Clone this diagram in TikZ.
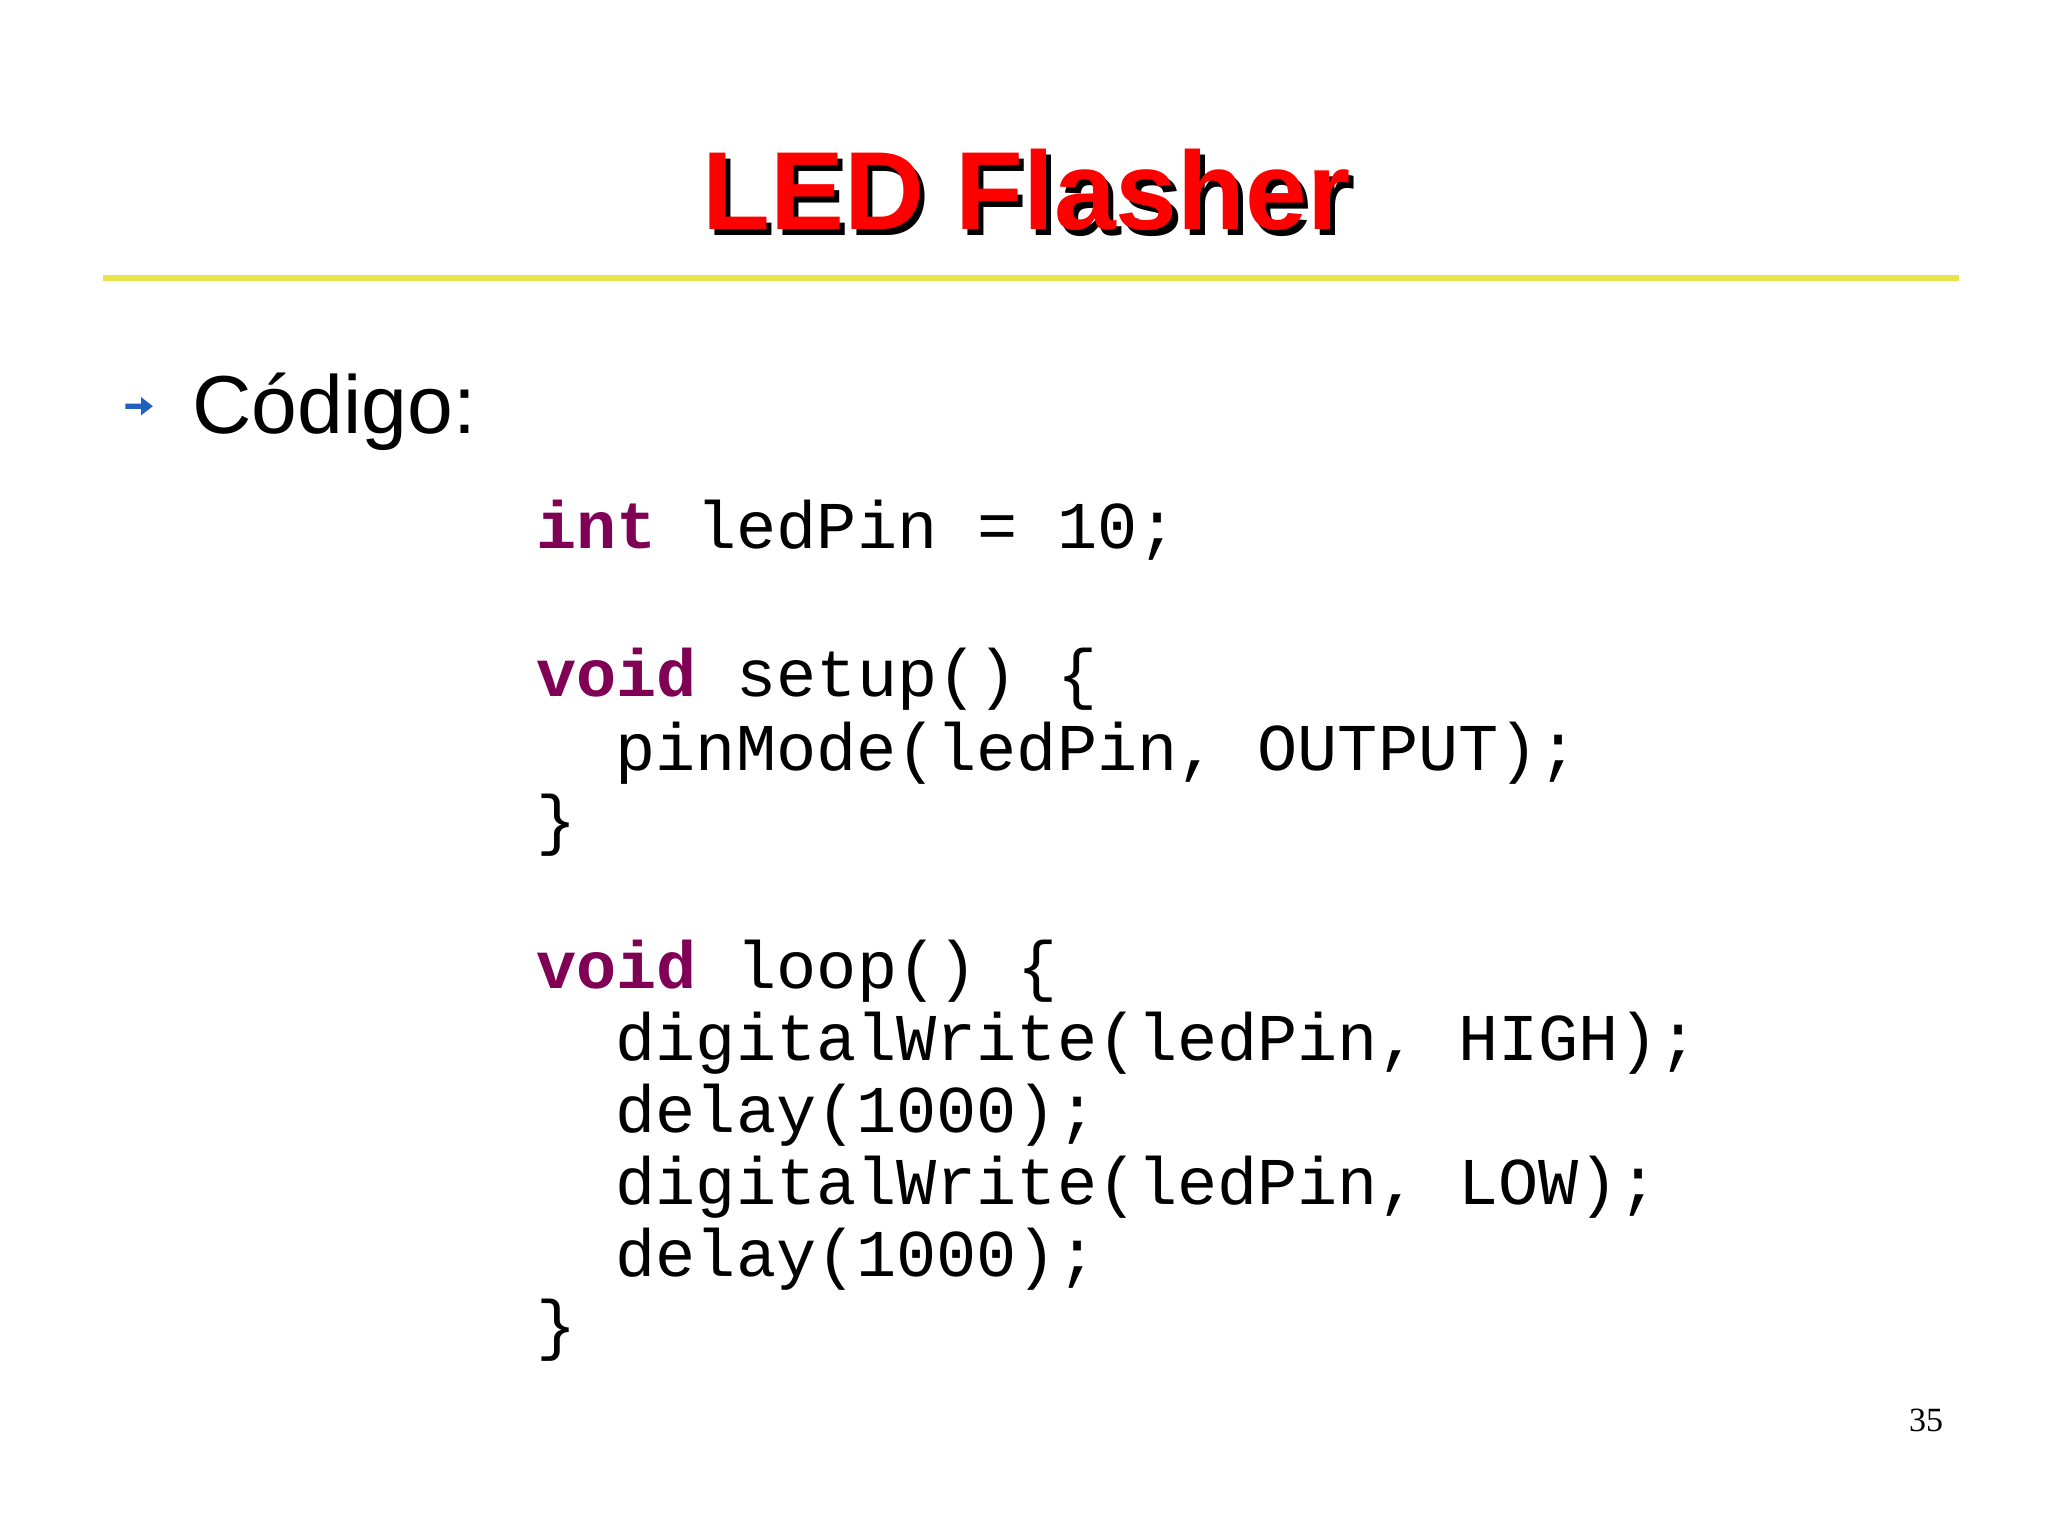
\documentclass[tikz,border=0pt]{standalone}
\usepackage{fontspec}
\setmainfont{Liberation Sans}
\newfontfamily\codefont{Liberation Mono}
\newfontfamily\serifnum{Liberation Serif}
\definecolor{kw}{HTML}{7F0055}
\definecolor{titlered}{HTML}{FF0000}
\definecolor{rule}{HTML}{E6E64A}
\definecolor{bul}{HTML}{2060C0}
\newcommand{\shadowtitle}{\makebox[0pt][l]{\hspace{2pt}\raisebox{-2pt}{\textcolor{black}{LED Flasher}}}\textcolor{titlered}{LED Flasher}}
\begin{document}
\begin{tikzpicture}[x=0.5pt,y=-0.5pt,
  code/.style={anchor=base west,inner sep=0pt,font=\codefont\fontsize{25.6}{30}\selectfont},
  kwd/.style={text=kw}]
\useasboundingbox (0,0) rectangle (1568,1175);
\fill[white] (0,0) rectangle (1568,1175);
\node[anchor=base,inner sep=0pt,font=\bfseries\fontsize{42.5}{48}\selectfont] (title) at (786,176) {\shadowtitle};
\draw[rule,line width=2.5pt] (79,213) -- (1500,213);
\fill[bul] (96,309) -- (108,309) -- (108,304) -- (117,311) -- (108,318) -- (108,313) -- (96,313) -- cycle;
\node[anchor=base west,inner sep=0pt,font=\fontsize{31.5}{38}\selectfont] (cod) at (147,332) {Código:};
\node[code] (l1) at (410,420) {\textbf{\color{kw}int} ledPin = 10;};
\node[code] (l2) at (410,533) {\textbf{\color{kw}void} setup() \{};
\node[code] (l3) at (471,590) {pinMode(ledPin, OUTPUT);};
\node[code] (l4) at (410,645) {\}};
\node[code] (l5) at (410,757) {\textbf{\color{kw}void} loop() \{};
\node[code] (l6) at (471,812) {digitalWrite(ledPin, HIGH);};
\node[code] (l7) at (471,867) {delay(1000);};
\node[code] (l8) at (471,922) {digitalWrite(ledPin, LOW);};
\node[code] (l9) at (471,977) {delay(1000);};
\node[code] (l10) at (410,1032) {\}};
\node[anchor=base east,inner sep=0pt,font=\serifnum\fontsize{13}{15}\selectfont] (pg) at (1488,1096) {35};
\end{tikzpicture}
\end{document}
